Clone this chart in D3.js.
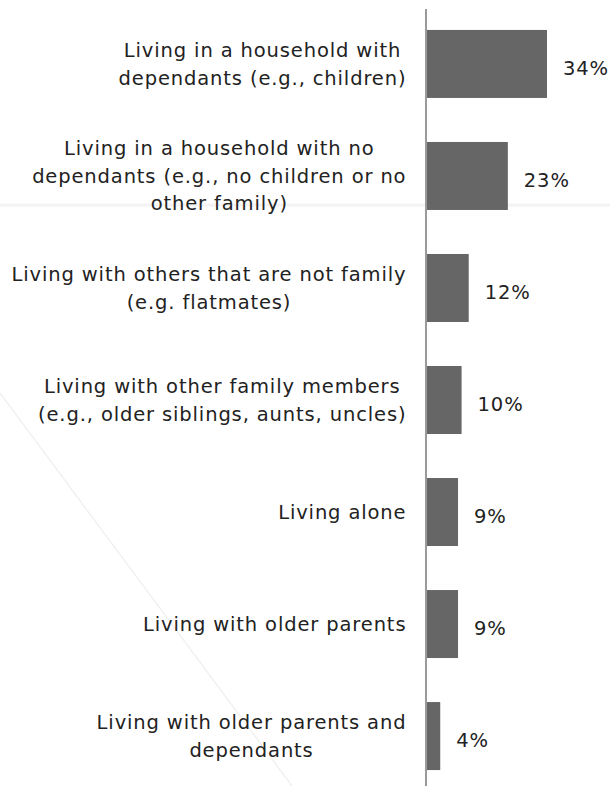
<!DOCTYPE html>
<html>
<head>
<meta charset="utf-8">
<script src="https://cdn.jsdelivr.net/npm/d3@7"></script>
<style>
  html, body { margin: 0; padding: 0; background: #fff; }
  svg { display: block; }
</style>
</head>
<body>
<svg id="chart" width="610" height="786"></svg>
<script>
const categories = [
  ["Living in a household with", "dependants (e.g., children)"],
  ["Living in a household with no", "dependants (e.g., no children or no", "other family)"],
  ["Living with others that are not family", "(e.g. flatmates)"],
  ["Living with other family members", "(e.g., older siblings, aunts, uncles)"],
  ["Living alone"],
  ["Living with older parents"],
  ["Living with older parents and", "dependants"]
];
const values = [34, 23, 12, 10, 9, 9, 4];
const valueLabels = ["34%", "23%", "12%", "10%", "9%", "9%", "4%"];

const W = 610, H = 786;
const axisX = 426;
const svg = d3.select("#chart");
const fontFamily = "'DejaVu Sans', sans-serif";
const fs = 19.5;

// faint background decoration
svg.append("line").attr("x1", 0).attr("x2", W).attr("y1", 205).attr("y2", 205)
  .attr("stroke", "#f3f3f3").attr("stroke-width", 3);
svg.append("line").attr("x1", 0).attr("y1", 393).attr("x2", 292).attr("y2", 786)
  .attr("stroke", "#f1f1f1").attr("stroke-width", 1.5);

const idx = d3.range(categories.length);
const y = d3.scaleBand().domain(idx).range([8, 792]).paddingInner(0.393).paddingOuter(0.196);
const x = d3.scaleLinear().domain([0, 34]).range([axisX, 547]);

// bars
svg.append("g").selectAll("rect").data(idx).join("rect")
  .attr("x", x(0) + 1)
  .attr("y", i => y(i))
  .attr("width", i => x(values[i]) - x(0) - 1)
  .attr("height", y.bandwidth())
  .attr("fill", "#666666");

// axis line
svg.append("line").attr("x1", axisX).attr("x2", axisX).attr("y1", 9).attr("y2", H)
  .attr("stroke", "#9a9a9a").attr("stroke-width", 2);

// letter spacing to match the wide reference face
const probeText = "Living with others that are not family";
const probe = svg.append("text").attr("font-family", fontFamily).attr("font-size", fs)
  .text(probeText);
const measured = probe.node().getComputedTextLength();
probe.remove();
const ls = Math.max(0, (394 - measured) / (probeText.length - 1));
const lh = 27.5;
const rightEdge = axisX - 20;

// category labels (block right-aligned, lines centred within block)
const lab = svg.append("g").selectAll("g").data(idx).join("g");
lab.each(function(i) {
  const lines = categories[i];
  const cy = y(i) + y.bandwidth() / 2;
  const g = d3.select(this);
  const texts = lines.map((ln, k) => g.append("text")
    .attr("font-family", fontFamily)
    .attr("font-size", fs)
    .attr("letter-spacing", ls)
    .attr("fill", "#222")
    .attr("text-anchor", "middle")
    .attr("y", cy + (k - (lines.length - 1) / 2) * lh)
    .attr("dy", "0.35em")
    .text(ln));
  const widths = texts.map(t => t.node().getComputedTextLength());
  const maxW = d3.max(widths);
  texts.forEach(t => t.attr("x", rightEdge - maxW / 2 + ls / 2));
});

// value labels
svg.append("g").selectAll("text").data(idx).join("text")
  .attr("x", i => x(values[i]) + 16)
  .attr("y", i => y(i) + y.bandwidth() / 2 + 4)
  .attr("dy", "0.35em")
  .attr("font-family", fontFamily)
  .attr("font-size", fs)
  .attr("letter-spacing", ls)
  .attr("fill", "#222")
  .text(i => valueLabels[i]);
</script>
</body>
</html>
